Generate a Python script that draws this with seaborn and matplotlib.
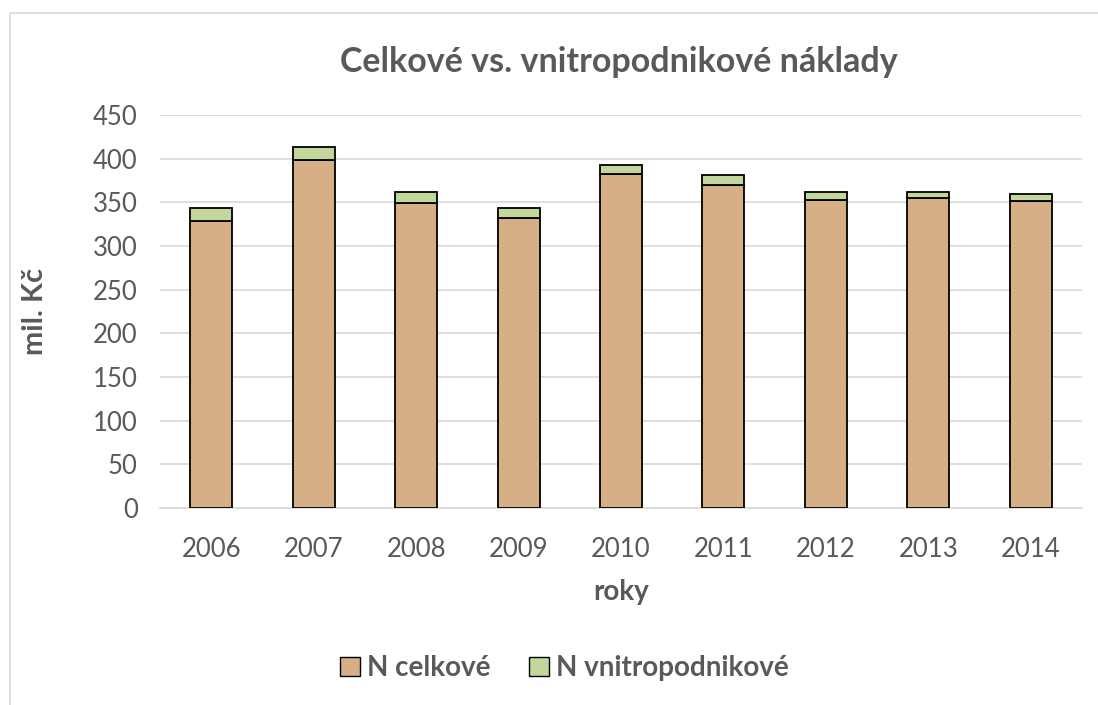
import matplotlib.pyplot as plt
import seaborn as sns
import pandas as pd
import numpy as np
from matplotlib.patches import Patch, Rectangle

# Data
roky = ['2006', '2007', '2008', '2009', '2010', '2011', '2012', '2013', '2014']
n_celkove = [329, 399, 349, 332, 382, 370, 353, 355, 352]
n_vnitro = [14, 14, 13, 12, 11, 11, 9, 7, 7]

c_celk = '#D6AF86'
c_vnitro = '#C3D69B'
text_col = '#595959'

sns.set_style("white")
plt.rcParams['font.family'] = ['Lato', 'DejaVu Sans']

df = pd.DataFrame({'rok': roky, 'celk': n_celkove, 'vnitro': n_vnitro})

fig = plt.figure(figsize=(10.98, 7.05), dpi=100)
ax = fig.add_axes([0.1457, 0.2794, 0.8397, 0.5575])

sns.barplot(data=df, x='rok', y='celk', color=c_celk, width=0.41,
            edgecolor='black', linewidth=1.3, saturation=1, ax=ax, zorder=3)
sns.barplot(data=df, x='rok', y='vnitro', color=c_vnitro, width=0.41,
            bottom=df['celk'], edgecolor='black', linewidth=1.3,
            saturation=1, ax=ax, zorder=3)

ax.set_ylim(0, 450)
ax.set_yticks(np.arange(0, 451, 50))
ax.yaxis.grid(True, color='#D9D9D9', linewidth=1.2, zorder=0)
ax.set_axisbelow(True)
for s in ['top', 'right', 'left']:
    ax.spines[s].set_visible(False)
ax.spines['bottom'].set_color('#D9D9D9')
ax.spines['bottom'].set_linewidth(1.2)
ax.tick_params(axis='both', length=0, labelsize=18.5, labelcolor=text_col)
ax.tick_params(axis='x', pad=21)
ax.tick_params(axis='y', pad=16)

ax.set_xlabel('roky', fontsize=20, fontweight='bold', color=text_col, labelpad=12)
ax.set_ylabel('mil. Kč', fontsize=21, fontweight='bold', color=text_col, labelpad=32)

fig.text(0.564, 0.912, 'Celkové vs. vnitropodnikové náklady', ha='center', va='center',
         fontsize=24.5, fontweight='bold', color=text_col)

handles = [Patch(facecolor=c_celk, edgecolor='black', label='N celkové'),
           Patch(facecolor=c_vnitro, edgecolor='black', label='N vnitropodnikové')]
leg = fig.legend(handles=handles, loc='center', bbox_to_anchor=(0.514, 0.052), ncol=2,
                 frameon=False, fontsize=20,
                 handlelength=0.7, handleheight=0.7, handletextpad=0.25, columnspacing=1.4)
for t in leg.get_texts():
    t.set_fontweight('bold')
    t.set_color(text_col)

# outer chart border
fig.patches.append(Rectangle((0.009, -0.01), 1.0, 0.992, transform=fig.transFigure,
                             fill=False, edgecolor='#D9D9D9', linewidth=1.2))

fig.savefig('out.png', dpi=100)
